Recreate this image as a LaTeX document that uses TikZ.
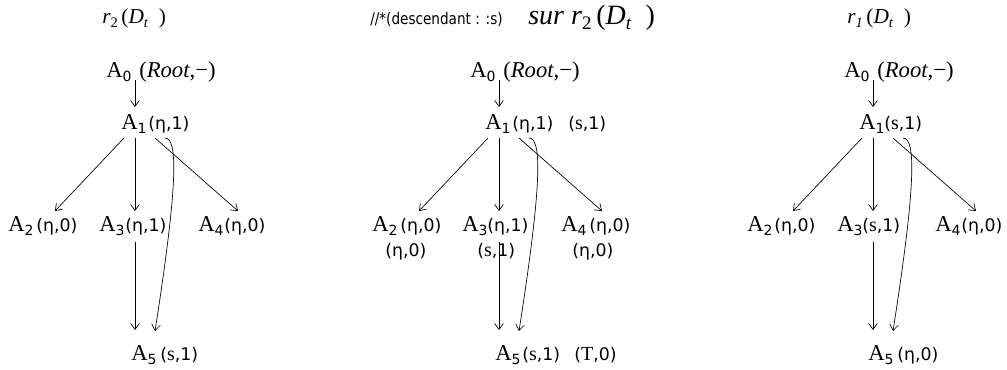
\documentclass[tikz,border=0pt]{standalone}
\usepackage{fontspec}
\setmainfont{Liberation Serif}
\newfontfamily\djv{DejaVu Sans}
\newfontfamily\djvc{DejaVu Sans}[FakeStretch=0.85]
\usetikzlibrary{arrows.meta}
\newcommand\Asub[1]{A\raisebox{-3pt}{\djv\fontsize{10.5}{12}\selectfont #1}}
\newcommand\lab[2]{{\djv\fontsize{13}{15}\selectfont(#1,#2)}}
\newcommand\sS{{\rmfamily\fontsize{15}{17}\selectfont s}}
\newcommand\tT{{\rmfamily\fontsize{15}{17}\selectfont T}}
\newcommand\rD[1]{\textit{r}\raisebox{-0.2em}{\fontsize{0.68em}{1em}\selectfont #1}\,(\textit{D}\raisebox{-0.2em}{\fontsize{0.68em}{1em}\selectfont\textit{t}}\ \ )}
\tikzset{
  x=0.75pt, y=-0.75pt,
  anode/.style={inner sep=0pt, anchor=base west, font=\fontsize{17}{19}\selectfont},
  lbl/.style={inner sep=0pt, anchor=base west},
  ttl/.style={inner sep=0pt, anchor=base west, font=\fontsize{16}{18}\selectfont},
  bigttl/.style={inner sep=0pt, anchor=base west, font=\fontsize{21}{23}\selectfont},
  arr/.style={-{Straight Barb[length=4.5pt,width=6.5pt]}, line width=0.5pt},
}
\begin{document}
\begin{tikzpicture}
\useasboundingbox (0,0) rectangle (1007,369);
% titles
\node[ttl] (t1) at (102,23) {\rD{2}};
\node[lbl] (t2a) at (370,24) {\djvc\fontsize{12}{14}\selectfont //*(descendant : :s)};
\node[bigttl] (t2b) at (528,24) {\textit{sur} \rD{2}};
\node[ttl] (t3) at (847,23) {\rD{\textit{1}}};

% ---------- panel 1 ----------
\begin{scope}
\node[anode] (p1a0) at (106,77) {\Asub{0}};
\node[anode] (p1a0l) at (139,77) {(\textit{Root},−)};
\node[anode] (p1a1) at (121,129) {\Asub{1}};
\node[lbl] (p1a1l) at (148,129) {\lab{η}{1}};
\node[anode] (p1a2) at (8,231) {\Asub{2}};
\node[lbl] (p1a2l) at (36,231) {\lab{η}{0}};
\node[anode] (p1a3) at (99,231) {\Asub{3}};
\node[lbl] (p1a3l) at (125,231) {\lab{η}{1}};
\node[anode] (p1a4) at (198,231) {\Asub{4}};
\node[lbl] (p1a4l) at (224,231) {\lab{η}{0}};
\node[anode] (p1a5) at (131,360) {\Asub{5}};
\node[lbl] (p1a5l) at (160,360) {\lab{\sS}{1}};
\draw[arr] ([shift={(29,3)}]p1a0.base west) -- ([shift={(14,-22)}]p1a1.base west);
\draw[arr] ([shift={(3,9)}]p1a1.base west) -- ([shift={(47,-20)}]p1a2.base west);
\draw[arr] ([shift={(14,9)}]p1a1.base west) -- ([shift={(36,-20)}]p1a3.base west);
\draw[arr] ([shift={(34,9)}]p1a1.base west) -- ([shift={(40,-20)}]p1a4.base west);
\draw[arr] ([shift={(44,9)}]p1a1.base west) .. controls ([shift={(57,9)}]p1a1.base west) and ([shift={(57,55)}]p1a1.base west) .. ([shift={(24,-29)}]p1a5.base west);
\draw[arr] ([shift={(36,11)}]p1a3.base west) -- ([shift={(4,-30)}]p1a5.base west);
\end{scope}

% ---------- panel 2 ----------
\begin{scope}[shift={(364,0)}]
\node[anode] (p2a0) at (106,77) {\Asub{0}};
\node[anode] (p2a0l) at (139,77) {(\textit{Root},−)};
\node[anode] (p2a1) at (121,129) {\Asub{1}};
\node[lbl] (p2a1l) at (148,129) {\lab{η}{1}};
\node[lbl] (p2a1m) at (204,129) {\lab{\sS}{1}};
\node[anode] (p2a2) at (8,231) {\Asub{2}};
\node[lbl] (p2a2l) at (36,231) {\lab{η}{0}};
\node[lbl] (p2a2m) at (21,256) {\lab{η}{0}};
\node[anode] (p2a3) at (98,231) {\Asub{3}};
\node[lbl] (p2a3l) at (123,231) {\lab{η}{1}};
\node[lbl] (p2a3m) at (113,256) {\lab{\sS}{1}};
\node[anode] (p2a4) at (197,231) {\Asub{4}};
\node[lbl] (p2a4l) at (225,231) {\lab{η}{0}};
\node[lbl] (p2a4m) at (208,256) {\lab{η}{0}};
\node[anode] (p2a5) at (131,360) {\Asub{5}};
\node[lbl] (p2a5l) at (158,360) {\lab{\sS}{1}};
\node[lbl] (p2a5m) at (210,360) {\lab{\tT}{0}};
\draw[arr] ([shift={(29,3)}]p2a0.base west) -- ([shift={(14,-22)}]p2a1.base west);
\draw[arr] ([shift={(3,9)}]p2a1.base west) -- ([shift={(47,-20)}]p2a2.base west);
\draw[arr] ([shift={(14,9)}]p2a1.base west) -- ([shift={(37,-20)}]p2a3.base west);
\draw[arr] ([shift={(34,9)}]p2a1.base west) -- ([shift={(41,-20)}]p2a4.base west);
\draw[arr] ([shift={(44,9)}]p2a1.base west) .. controls ([shift={(57,9)}]p2a1.base west) and ([shift={(57,55)}]p2a1.base west) .. ([shift={(24,-29)}]p2a5.base west);
\draw[arr] ([shift={(37,11)}]p2a3.base west) -- ([shift={(4,-30)}]p2a5.base west);
\end{scope}

% ---------- panel 3 ----------
\begin{scope}[shift={(738,0)}]
\node[anode] (p3a0) at (106,77) {\Asub{0}};
\node[anode] (p3a0l) at (139,77) {(\textit{Root},−)};
\node[anode] (p3a1) at (121,129) {\Asub{1}};
\node[lbl] (p3a1l) at (146,129) {\lab{\sS}{1}};
\node[anode] (p3a2) at (9,231) {\Asub{2}};
\node[lbl] (p3a2l) at (36,231) {\lab{η}{0}};
\node[anode] (p3a3) at (99,231) {\Asub{3}};
\node[lbl] (p3a3l) at (124,231) {\lab{\sS}{1}};
\node[anode] (p3a4) at (197,231) {\Asub{4}};
\node[lbl] (p3a4l) at (223,231) {\lab{η}{0}};
\node[anode] (p3a5) at (130,360) {\Asub{5}};
\node[lbl] (p3a5l) at (159,360) {\lab{η}{0}};
\draw[arr] ([shift={(29,3)}]p3a0.base west) -- ([shift={(14,-22)}]p3a1.base west);
\draw[arr] ([shift={(3,9)}]p3a1.base west) -- ([shift={(46,-20)}]p3a2.base west);
\draw[arr] ([shift={(14,9)}]p3a1.base west) -- ([shift={(36,-20)}]p3a3.base west);
\draw[arr] ([shift={(34,9)}]p3a1.base west) -- ([shift={(41,-20)}]p3a4.base west);
\draw[arr] ([shift={(44,9)}]p3a1.base west) .. controls ([shift={(57,9)}]p3a1.base west) and ([shift={(57,55)}]p3a1.base west) .. ([shift={(25,-29)}]p3a5.base west);
\draw[arr] ([shift={(36,11)}]p3a3.base west) -- ([shift={(5,-30)}]p3a5.base west);
\end{scope}
\end{tikzpicture}
\end{document}
